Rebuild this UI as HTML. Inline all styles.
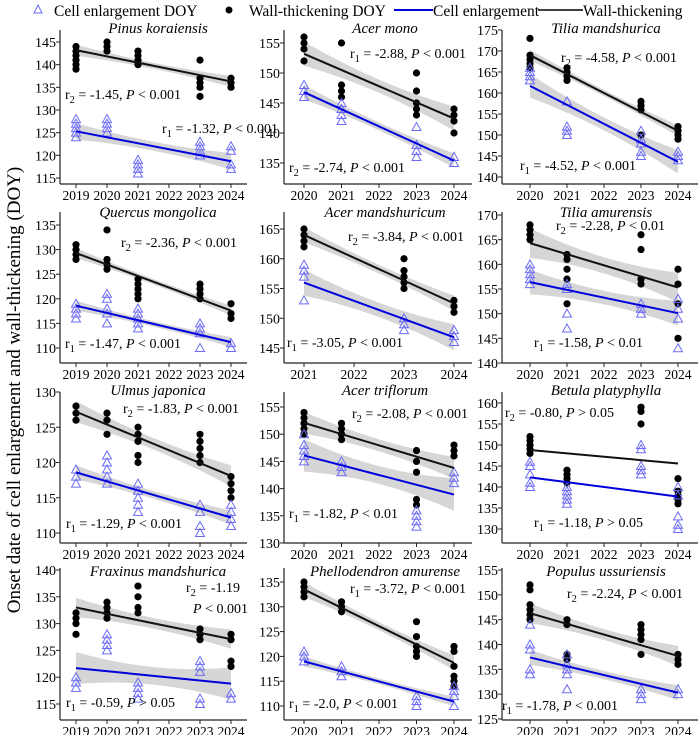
<!DOCTYPE html>
<html><head><meta charset="utf-8"><style>
html,body{margin:0;padding:0;background:#fff;}
svg, svg text{font-family:"Liberation Serif","Times New Roman",serif;}
</style></head><body>
<svg id="chart" width="700" height="735" viewBox="0 0 700 735" font-family="Liberation Serif, Times New Roman, serif">
<g id="legend">
 <g>
  <polygon points="38,5 34,13 42,13" fill="none" stroke="#6b6bf5" stroke-width="1"/>
  <text x="54" y="16" font-size="15.5">Cell enlargement DOY</text></g>
 <g>
  <circle cx="229" cy="10" r="3.5" fill="#000"/>
  <text x="249" y="16" font-size="15.5">Wall-thickening DOY</text></g>
 <g>
  <line x1="394" y1="10" x2="433" y2="10" stroke="#0000dd" stroke-width="2"/>
  <text x="433" y="16" font-size="15.5">Cell enlargement</text></g>
 <g>
  <line x1="538" y1="10" x2="583" y2="10" stroke="#000" stroke-width="1.5"/>
  <text x="583" y="16" font-size="15.5">Wall-thickening</text></g>
</g>
<text transform="translate(20,390) rotate(-90)" text-anchor="middle" font-size="19">Onset date of cell enlargement and wall-thickening (DOY)</text>
<g id="panels"></g>
</svg>
<script>
const panelNames = ["Pinus koraiensis","Acer mono","Tilia mandshurica","Quercus mongolica","Acer mandshuricum","Tilia amurensis","Ulmus japonica","Acer triflorum","Betula platyphylla","Fraxinus mandshurica","Phellodendron amurense","Populus ussuriensis"];
const panelYears = [
 [2019,2020,2021,2023,2024],[2020,2021,2023,2024],[2020,2021,2023,2024],
 [2019,2020,2021,2023,2024],[2021,2023,2024],[2020,2021,2023,2024],
 [2019,2020,2021,2023,2024],[2020,2021,2023,2024],[2020,2021,2023,2024],
 [2019,2020,2021,2023,2024],[2020,2021,2023,2024],[2020,2021,2023,2024]];
const wallValues = [
 [[139,140,141,142,143,144],[143,144,145],[140,141,142,143],[133,135,136,137,141],[135,136,137]],
 [[152,154,155,156],[146,147,148,155],[143,144,145,147,150],[140,142,143,144]],
 [[166,167,168,169,173],[163,164,165,166],[150,156,157,158],[149,150,151,152]],
 [[128,129,130,131],[126,127,128,134],[120,121,122,123,124],[120,121,122,123],[116,117,119]],
 [[162,163,164,165],[155,156,157,158,160],[151,152,153]],
 [[165,166,167,168],[152,157,159,161,162],[156,157,163,166],[145,152,156,159]],
 [[126,127,128],[124,126,127],[120,121,123,124,125],[120,121,122,123,124],[115,116,117,118]],
 [[150,151,152,153,154],[149,150,151,152],[137,138,143,145,147],[146,147,148]],
 [[148,149,150,151,152],[141,142,143,144],[155,158,159],[136,137,138,139,142]],
 [[128,130,131,132],[131,132,133,134],[132,133,135,137],[127,128,129],[122,123,127,128]],
 [[132,133,134,135],[129,130,131],[120,121,122,124,127],[114,115,116,118,121,122]],
 [[145,146,147,148,151,152],[137,138,144,145],[138,141,142,143,144],[136,137,138]]];
const cellValues = [
 [[124,125,126,127,128],[125,126,127,128],[116,117,118,119],[120,121,122,123],[117,118,121,122]],
 [[146,147,148],[142,143,144,145],[136,137,138,141],[135,136]],
 [[163,164,165,166],[150,151,152,158],[145,146,148,149,151],[144,145,146]],
 [[116,117,118,119],[115,117,118,120,121],[114,115,116,117,118],[110,113,114,115],[110,111]],
 [[153,157,158,159],[148,149,150],[146,147,148]],
 [[156,157,158,159,160],[147,150,155,156],[150,151,152],[143,149,151,153]],
 [[117,118,119],[117,118,119,120,121],[113,114,115,116,117],[110,111,113,114],[111,112,113,114]],
 [[145,146,147,148,150],[143,144,145],[133,134,135,136],[141,142,143]],
 [[140,141,143,145,146],[136,137,138,139,140],[143,144,145,149,150],[130,131,133,138,140]],
 [[118,119,120],[125,126,127,128],[116,117,118,119],[115,116,121,122,123],[116,117]],
 [[119,120,121],[116,117,118],[110,111,112],[110,112,113,114]],
 [[134,135,139,140,144],[131,134,135,136,138],[129,130,131],[130,131]]];
const wallFit = [[143.2,136.3],[153.2,142.4],[169,151],[129.3,117.6],[164,152.5],[164.3,155.3],[127.2,118.1],[152.1,143.8],[148.8,145.6],[133,127.1],[133.5,118.7],[146.3,137.7]];
const cellFit = [[125.3,118.7],[146.8,135.4],[161.7,143.6],[118.6,111.2],[156,146.8],[156.4,150.1],[118.6,112.2],[146.1,138.9],[142.3,137.7],[121.7,118.8],[119,110.9],[137.4,130.3]];
const wallBand = [1.2,2,1.3,1,1.3,3,1.5,2,0,1.8,1.5,2];
const cellBand = [1.8,1.2,2.8,1,2.2,2.5,1,3,0,3,1,1.5];
const yTicks = [
 [115,120,125,130,135,140,145],[135,140,145,150,155],[140,145,150,155,160,165,170,175],
 [110,115,120,125,130,135],[145,150,155,160,165],[140,145,150,155,160,165,170],
 [110,115,120,125,130],[130,135,140,145,150,155],[130,135,140,145,150,155,160],
 [115,120,125,130,135,140],[110,115,120,125,130,135],[125,130,135,140,145,150,155]];
const xTicks = [
 [2019,2020,2021,2022,2023,2024],[2020,2021,2022,2023,2024],[2020,2021,2022,2023,2024],
 [2019,2020,2021,2022,2023,2024],[2021,2022,2023,2024],[2020,2021,2022,2023,2024],
 [2019,2020,2021,2022,2023,2024],[2020,2021,2022,2023,2024],[2020,2021,2022,2023,2024],
 [2019,2020,2021,2022,2023,2024],[2020,2021,2022,2023,2024],[2020,2021,2022,2023,2024]];
const annotWall = [["2","-1.45","<","0.001"],["1","-2.88","<","0.001"],["2","-4.58","<","0.001"],["2","-2.36","<","0.001"],["2","-3.84","<","0.001"],["2","-2.28","<","0.01"],["2","-1.83","<","0.001"],["2","-2.08","<","0.001"],["2","-0.80",">","0.05"],["2","-1.19","<","0.001"],["1","-3.72","<","0.001"],["2","-2.24","<","0.001"]];
const annotCell = [["1","-1.32","<","0.001"],["2","-2.74","<","0.001"],["1","-4.52","<","0.001"],["1","-1.47","<","0.001"],["1","-3.05","<","0.001"],["1","-1.58","<","0.01"],["1","-1.29","<","0.001"],["1","-1.82","<","0.01"],["1","-1.18",">","0.05"],["1","-0.59",">","0.05"],["1","-2.0","<","0.001"],["1","-1.78","<","0.001"]];

// layout (pixel geometry only)
const colGeo = [{ax:60,right:247,tx:158},{ax:284,right:472,tx:385},{ax:502,right:698,tx:606}];
const rowGeo = [{top:30,base:184,ty:33},{top:212,base:363,ty:217},{top:392,base:543,ty:395},{top:568,base:720,ty:576}];
const xGeo = [[76,2019,231,2024],[304,2020,454,2024],[530,2020,678,2024],[76,2019,231,2024],[304,2021,454,2024],[530,2020,678,2024],[76,2019,231,2024],[304,2020,454,2024],[530,2020,678,2024],[76,2019,231,2024],[304,2020,454,2024],[530,2020,678,2024]];
const yGeo = [[145,42,115,178],[155,43,135,163],[175,30,140,177],[135,225,110,348],[165,229,145,348],[170,215,140,363],[130,392,110,533],[155,407,130,543],[160,403,130,529],[140,570,115,704],[135,582,110,706],[155,570,125,719]];
const wallTextPos = [[65,99],[350,58],[561,62],[121,247],[348,241],[556,230],[123,413],[352,418],[505,417],[186,592],[350,593],[567,598]];
const cellTextPos = [[162,133],[289,172],[520,170],[65,348],[287,347],[534,347],[66,528],[289,518],[534,527],[66,707],[289,708],[502,710]];

const NS = "http://www.w3.org/2000/svg";
const FF = '"Liberation Serif","Times New Roman",serif';
function mk(tag, attrs, parent){ const e=document.createElementNS(NS,tag); for(const k in attrs) e.setAttribute(k,attrs[k]); if(tag==='text') e.style.fontFamily=FF; if(parent) parent.appendChild(e); return e; }
function slug(s){ return s.toLowerCase().replace(/\s+/g,'-'); }
function addAnnot(g, a, pos, extra){
  const t = mk('text',{x:pos[0],y:pos[1],'font-size':14},g);
  
  
  const s=(txt,at)=>{const ts=mk('tspan',at||{},t); ts.textContent=txt; return ts;};
  s('r'); s(a[0],{dy:4,'font-size':10.5}); s(' = '+a[1]+(extra?'':', '),{dy:-4});
  if(!extra){ s('P',{'font-style':'italic'}); s(' '+a[2]+' '+a[3]); }
}
const root = document.getElementById('panels');
panelNames.forEach((name,i)=>{
  const c = colGeo[i%3], r = rowGeo[Math.floor(i/3)];
  const xg = xGeo[i], yg = yGeo[i];
  const X = yr => xg[0] + (yr-xg[1])*(xg[2]-xg[0])/(xg[3]-xg[1]);
  const Y = v => yg[1] + (v-yg[0])*(yg[3]-yg[1])/(yg[2]-yg[0]);
  const g = mk('g',{},root);
  
  
  const yrs = panelYears[i];
  const xa = yrs[0], xb = yrs[yrs.length-1], xm=(xa+xb)/2;
  [[wallFit[i],wallBand[i],'wall'],[cellFit[i],cellBand[i],'cell']].forEach(([f,b,k])=>{
    if(b<=0) return;
    const fm=(f[0]+f[1])/2, bm=b*0.45;
    const p = mk('path',{d:'M'+X(xa)+','+Y(f[0]+b)+' Q'+X(xm)+','+Y(fm+bm*0.2)+' '+X(xb)+','+Y(f[1]+b)+' L'+X(xb)+','+Y(f[1]-b)+' Q'+X(xm)+','+Y(fm-bm*0.2)+' '+X(xa)+','+Y(f[0]-b)+' Z',fill:'#c8c8c8','fill-opacity':0.75},g);
    
    
  });
  wallValues[i].forEach((vals,j)=>vals.forEach(v=>{
    const d = mk('circle',{cx:X(yrs[j]),cy:Y(v),r:3.6,fill:'#000'},g);
    
    
  }));
  cellValues[i].forEach((vals,j)=>vals.forEach(v=>{
    const x=X(yrs[j]), y=Y(v);
    const t = mk('polygon',{points:`${x},${y-4.5} ${x-4.5},${y+3.5} ${x+4.5},${y+3.5}`,fill:'none',stroke:'#6b6bf5','stroke-width':1},g);
    
    
  }));
  const wl = mk('line',{x1:X(xa),y1:Y(wallFit[i][0]),x2:X(xb),y2:Y(wallFit[i][1]),stroke:'#111','stroke-width':2},g);
  
  
  const cl = mk('line',{x1:X(xa),y1:Y(cellFit[i][0]),x2:X(xb),y2:Y(cellFit[i][1]),stroke:'#0000dd','stroke-width':2},g);
  
  
  const ya = mk('line',{x1:c.ax,y1:r.top,x2:c.ax,y2:r.base,stroke:'#222','stroke-width':1.2},g);
  
  
  const xaL = mk('line',{x1:c.ax,y1:r.base,x2:c.right,y2:r.base,stroke:'#222','stroke-width':1.2},g);
  
  
  yTicks[i].forEach(v=>{
    mk('line',{x1:c.ax-4,y1:Y(v),x2:c.ax,y2:Y(v),stroke:'#222'},g);
    const t = mk('text',{x:c.ax-4,y:Y(v)+5,'text-anchor':'end','font-size':14},g);
    t.textContent = v;
    
    
  });
  xTicks[i].forEach(yr=>{
    mk('line',{x1:X(yr),y1:r.base,x2:X(yr),y2:r.base+4,stroke:'#222'},g);
    const t = mk('text',{x:X(yr),y:r.base+16,'text-anchor':'middle','font-size':13.5},g);
    t.textContent = yr;
    
    
  });
  const tt = mk('text',{x:c.tx,y:r.ty,'text-anchor':'middle','font-size':15,'font-style':'italic'},g);
  tt.textContent = name;
  
  
  if(i===9){
    addAnnot(g, annotWall[i], wallTextPos[i], true);
    const t2 = mk('text',{x:193,y:613,'font-size':14},g);
    
    
    const a=mk('tspan',{'font-style':'italic'},t2); a.textContent='P';
    const b=mk('tspan',{},t2); b.textContent=' < 0.001';
  } else addAnnot(g, annotWall[i], wallTextPos[i]);
  addAnnot(g, annotCell[i], cellTextPos[i]);
});
</script>
</body></html>
